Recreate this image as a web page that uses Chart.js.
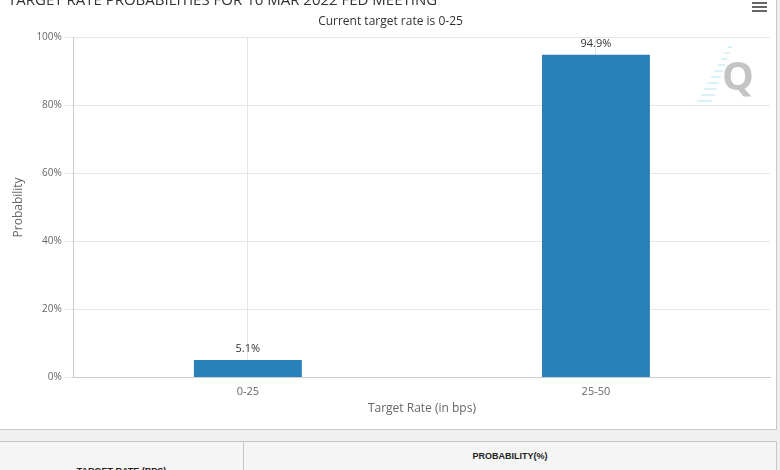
<!DOCTYPE html>
<html>
<head>
<meta charset="utf-8">
<script src="https://cdn.jsdelivr.net/npm/chart.js@4/dist/chart.umd.min.js"></script>
<style>
    body { margin: 0; background: #f0f0f0; font-family: "Open Sans", "DejaVu Sans", sans-serif; }
    #box {
        position: absolute; left: 0; top: 0; width: 776px; height: 429px;
        background: #fff; border-right: 1px solid #c8c8c8; border-bottom: 1px solid #c8c8c8;
        overflow: hidden;
    }
    #box canvas { position: absolute; left: 0; top: 0; }
    #menu { position: absolute; left: 752px; top: 2px; width: 15px; }
    #menu div { height: 2px; background: #666; margin-bottom: 2px; }
    #table {
        position: absolute; left: 0; top: 441px; width: 776px; height: 40px;
        background: #f5f5f5; border-top: 1px solid #c8c8c8; border-right: 1px solid #c8c8c8;
    }
    #table .cell { position: absolute; top: 0; height: 40px; font-size: 9px; font-weight: bold;
        color: #222; text-align: center; font-family: "Liberation Sans", Arial, sans-serif; }
    #c1 { left: 0; width: 243px; border-right: 1px solid #c8c8c8; }
    #c1 span { position: relative; top: 24px; }
    #c2 { left: 244px; width: 532px; }
    #c2 span { position: relative; top: 9px; }
</style>
</head>
<body>
<div id="box">
    <canvas id="rateChart" width="776" height="429"></canvas>
    <div id="menu"><div></div><div></div><div></div></div>
</div>
<div id="table">
    <div class="cell" id="c1"><span>TARGET RATE (BPS)</span></div>
    <div class="cell" id="c2"><span>PROBABILITY(%)</span></div>
</div>
<script>
// 数据
const rateBuckets = ['0-25', '25-50'];
const probabilities = [5.1, 94.9];
const yTicks = [0, 20, 40, 60, 80, 100];

const chartTitle = 'TARGET RATE PROBABILITIES FOR 16 MAR 2022 FED MEETING';
const chartSubtitle = 'Current target rate is 0-25';

const FONT = '"Open Sans", "DejaVu Sans", sans-serif';

// 标题、数据标签和水印
const decorPlugin = {
    id: 'decor',
    afterDraw(chart) {
        const ctx = chart.ctx;
        const area = chart.chartArea;
        ctx.save();

        // 被截掉一半的标题
        ctx.font = '15px ' + FONT;
        ctx.fillStyle = '#333';
        ctx.textAlign = 'left';
        ctx.textBaseline = 'alphabetic';
        ctx.fillText(chartTitle, 8, 5);

        // 水印 Q
        const qx = area.right - 32, qy = 79;
        ctx.strokeStyle = 'rgba(110, 200, 235, 0.5)';
        ctx.lineWidth = 1;
        for (let i = 0; i < 10; i++) {
            const y = qy - 32 + i * 6;
            const x0 = qx - 6 - i * 2.2;
            ctx.beginPath();
            ctx.moveTo(x0 - 4 - i * 1.2, y);
            ctx.lineTo(x0, y);
            ctx.stroke();
        }
        ctx.font = 'bold 40px ' + FONT;
        ctx.fillStyle = '#c4c4c4';
        ctx.textAlign = 'center';
        ctx.textBaseline = 'middle';
        ctx.fillText('Q', qx, qy);

        // 数据标签
        const meta = chart.getDatasetMeta(0);
        ctx.font = '11px ' + FONT;
        ctx.fillStyle = '#333';
        ctx.textAlign = 'center';
        ctx.textBaseline = 'middle';
        meta.data.forEach((bar, i) => {
            ctx.fillText(probabilities[i].toFixed(1) + '%', bar.x, bar.y - 11);
        });
        ctx.restore();
    }
};

const ctx = document.getElementById('rateChart').getContext('2d');
const chart = new Chart(ctx, {
    type: 'bar',
    data: {
        labels: rateBuckets,
        datasets: [{
            label: 'Probability',
            data: probabilities,
            backgroundColor: '#2980b9',
            borderWidth: 0,
            barPercentage: 1,
            categoryPercentage: 0.31
        }]
    },
    options: {
        responsive: false,
        animation: false,
        layout: { padding: { top: 0, right: 6, left: 11, bottom: 13 } },
        plugins: {
            legend: { display: false },
            tooltip: { enabled: false },
            title: { display: false },
            subtitle: {
                display: true,
                text: chartSubtitle,
                color: '#333',
                font: { family: FONT, size: 12 },
                padding: { top: 14, bottom: 9 }
            }
        },
        scales: {
            y: {
                min: 0,
                max: 100,
                afterBuildTicks: (axis) => { axis.ticks = yTicks.map(v => ({ value: v })); },
                ticks: {
                    callback: v => v + '%',
                    color: '#666',
                    font: { family: FONT, size: 10 },
                    padding: 3
                },
                grid: { color: '#e6e6e6', tickLength: 9, tickColor: '#e6e6e6' },
                border: { color: '#ccc' },
                title: {
                    display: true,
                    text: 'Probability',
                    color: '#666',
                    font: { family: FONT, size: 12 },
                    padding: { top: 0, bottom: 8 }
                }
            },
            x: {
                ticks: {
                    color: '#666',
                    font: { family: FONT, size: 11 },
                    padding: 8
                },
                grid: { offset: false, color: '#e6e6e6', tickLength: 0 },
                border: { color: '#ccc' },
                title: {
                    display: true,
                    text: 'Target Rate (in bps)',
                    color: '#666',
                    font: { family: FONT, size: 12 },
                    padding: { top: -5, bottom: 0 }
                }
            }
        }
    },
    plugins: [decorPlugin]
});
</script>
</body>
</html>
